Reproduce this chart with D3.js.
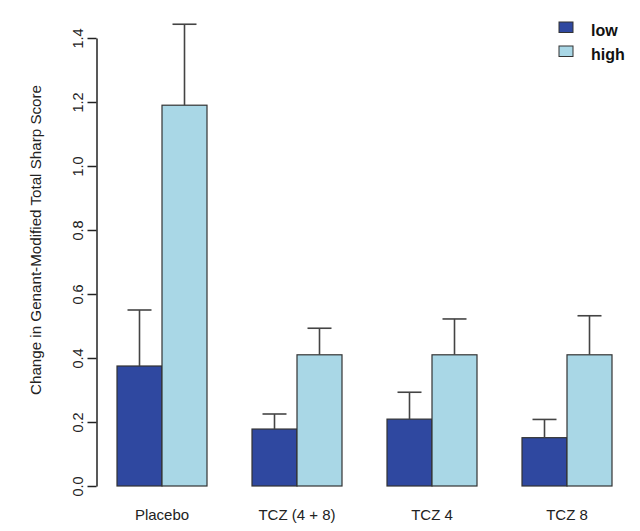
<!DOCTYPE html>
<html>
<head>
<meta charset="utf-8">
<script src="https://cdn.jsdelivr.net/npm/d3@7"></script>
<style>
  html, body { margin: 0; padding: 0; background: #fff; }
  svg { display: block; font-family: "Liberation Sans", Arial, sans-serif; }
</style>
</head>
<body>
<svg id="chart" width="640" height="531"></svg>
<script>
// ---- data ----
const categories = ["Placebo", "TCZ (4 + 8)", "TCZ 4", "TCZ 8"];
const seriesNames = ["low", "high"];
const lowValues = [0.375, 0.178, 0.209, 0.151];
const highValues = [1.19, 0.41, 0.41, 0.41];
const lowUpper = [0.55, 0.225, 0.293, 0.208];
const highUpper = [1.443, 0.493, 0.522, 0.532];
const yTicks = [0.0, 0.2, 0.4, 0.6, 0.8, 1.0, 1.2, 1.4];
const yTitle = "Change in Genant-Modified Total Sharp Score";

const colors = { low: "#2f48a0", high: "#a9d7e6" };

const svg = d3.select("#chart");

const y = d3.scaleLinear().domain([0, 1.4]).range([486, 38]);
const x0 = d3.scaleBand().domain(categories).range([117, 612]).paddingInner(1 / 3).paddingOuter(0);
const x1 = d3.scaleBand().domain(seriesNames).range([0, x0.bandwidth()]).padding(0);

const rows = categories.map((c, i) => ({
  cat: c,
  vals: [
    { s: "low", v: lowValues[i], up: lowUpper[i] },
    { s: "high", v: highValues[i], up: highUpper[i] }
  ]
}));

// bars
const groups = svg.append("g").selectAll("g").data(rows).join("g")
  .attr("transform", d => `translate(${x0(d.cat)},0)`);

groups.selectAll("rect").data(d => d.vals).join("rect")
  .attr("x", d => x1(d.s))
  .attr("y", d => y(d.v))
  .attr("width", x1.bandwidth())
  .attr("height", d => y(0) - y(d.v))
  .attr("fill", d => colors[d.s])
  .attr("stroke", "#333")
  .attr("stroke-width", 1.2);

// error bars (upward only)
const capHalf = 12;
groups.selectAll("line.err").data(d => d.vals).join("line")
  .attr("class", "err")
  .attr("x1", d => x1(d.s) + x1.bandwidth() / 2)
  .attr("x2", d => x1(d.s) + x1.bandwidth() / 2)
  .attr("y1", d => y(d.v))
  .attr("y2", d => y(d.up))
  .attr("stroke", "#444").attr("stroke-width", 1.6);
groups.selectAll("line.cap").data(d => d.vals).join("line")
  .attr("class", "cap")
  .attr("x1", d => x1(d.s) + x1.bandwidth() / 2 - capHalf)
  .attr("x2", d => x1(d.s) + x1.bandwidth() / 2 + capHalf)
  .attr("y1", d => y(d.up))
  .attr("y2", d => y(d.up))
  .attr("stroke", "#444").attr("stroke-width", 1.6);

// y axis
const yAxis = d3.axisLeft(y).tickValues(yTicks).tickSize(9).tickSizeOuter(0)
  .tickFormat(d3.format(".1f"));
const ag = svg.append("g").attr("transform", "translate(96.5,0)").call(yAxis);
ag.select(".domain").attr("stroke", "#222").attr("stroke-width", 1.5);
ag.selectAll(".tick line").attr("stroke", "#222").attr("stroke-width", 1.5);
ag.selectAll(".tick text")
  .attr("transform", "rotate(-90)")
  .attr("x", 0).attr("y", -13.5).attr("dy", null)
  .attr("text-anchor", "middle")
  .attr("fill", "#222")
  .style("font-size", "14.5px")
  .style("font-family", "'Liberation Sans', Arial, sans-serif");

// y title
svg.append("text")
  .attr("transform", "translate(41,240) rotate(-90)")
  .attr("text-anchor", "middle")
  .attr("fill", "#222")
  .style("font-size", "14px")
  .attr("textLength", 310)
  .attr("lengthAdjust", "spacingAndGlyphs")
  .text(yTitle);

// x labels
svg.append("g").selectAll("text").data(categories).join("text")
  .attr("x", d => x0(d) + x0.bandwidth() / 2)
  .attr("y", 520)
  .attr("text-anchor", "middle")
  .attr("fill", "#222")
  .style("font-size", "15px")
  .text(d => d);

// legend
const leg = svg.append("g");
const legY = [22, 46];
seriesNames.forEach((s, i) => {
  leg.append("rect")
    .attr("x", 559).attr("y", legY[i])
    .attr("width", 14).attr("height", 10.5)
    .attr("fill", colors[s]).attr("stroke", "#333").attr("stroke-width", 1);
  leg.append("text")
    .attr("x", 591).attr("y", legY[i] + 13.5)
    .attr("fill", "#111")
    .style("font-size", "16px").style("font-weight", "bold")
    .text(s);
});
</script>
</body>
</html>
